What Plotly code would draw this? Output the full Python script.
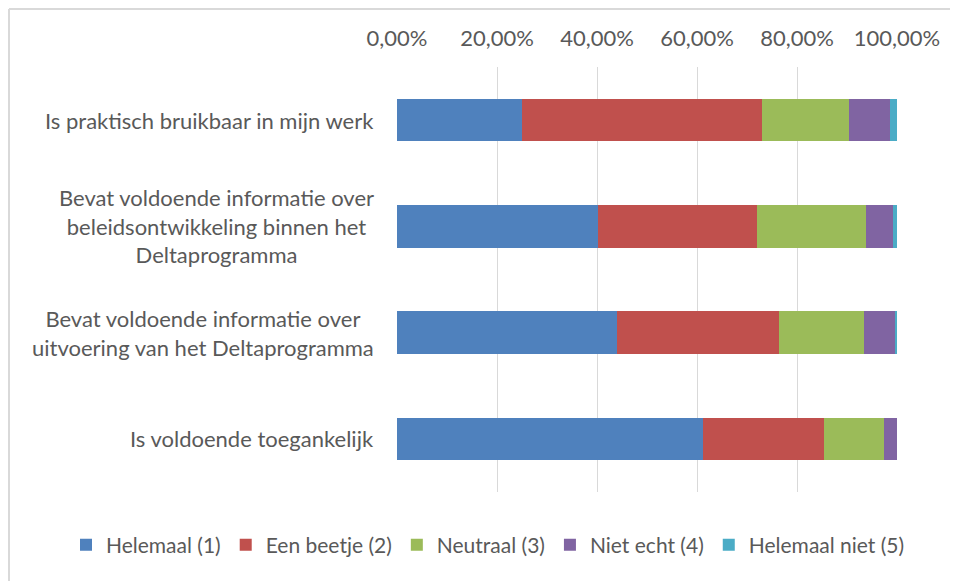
import plotly.graph_objects as go

categories = [
    "Is praktisch bruikbaar in mijn werk",
    "Bevat voldoende informatie over<br>beleidsontwikkeling binnen het<br>Deltaprogramma",
    "Bevat voldoende informatie over<br>uitvoering van het Deltaprogramma",
    "Is voldoende toegankelijk",
]
series_names = ["Helemaal (1)", "Een beetje (2)", "Neutraal (3)", "Niet echt (4)", "Helemaal niet (5)"]
helemaal = [24.9, 40.2, 43.9, 61.2]
een_beetje = [48.1, 31.8, 32.4, 24.1]
neutraal = [17.4, 21.7, 17.0, 12.0]
niet_echt = [8.2, 5.5, 6.4, 2.7]
helemaal_niet = [1.4, 0.8, 0.3, 0.0]
tick_vals = [0, 20, 40, 60, 80, 100]
tick_labels = ["0,00%", "20,00%", "40,00%", "60,00%", "80,00%", "100,00%"]

colors = ["#4F81BD", "#C0504D", "#9BBB59", "#8064A2", "#4BACC6"]
FONT = "Lato, Carlito, Calibri, sans-serif"
TXT = "#595959"

W, H = 958, 581
OFF = 8  # page body margin
# target screen positions: plot x 397..897, y 67..492
L, T = 397 - OFF, 67 - OFF
PW, PH = 500, 425
R, B = W - L - PW, H - T - PH

fig = go.Figure()
for name, vals, col in zip(series_names, [helemaal, een_beetje, neutraal, niet_echt, helemaal_niet], colors):
    fig.add_trace(go.Bar(
        name=name, x=vals, y=categories, orientation="h",
        marker=dict(color=col, line=dict(width=0)),
    ))

for cat in categories:
    fig.add_annotation(
        x=0, xref="paper", y=cat, yref="y", text=cat, showarrow=False,
        xanchor="right", yanchor="middle", align="center", xshift=-21,
        font=dict(family=FONT, size=22, color=TXT),
    )

fig.update_layout(
    width=W, height=H,
    barmode="stack", bargap=0.6,
    paper_bgcolor="white", plot_bgcolor="white",
    margin=dict(l=L, r=R, t=T, b=B, autoexpand=False),
    font=dict(family=FONT, size=18, color=TXT),
    showlegend=True,
    legend=dict(
        orientation="h", xref="paper", yref="paper",
        x=(66 - OFF - L) / PW, y=-(545 - 492) / PH, xanchor="left", yanchor="middle",
        font=dict(family=FONT, size=21, color=TXT),
        tracegroupgap=0, traceorder="normal", bgcolor="rgba(0,0,0,0)",
    ),
)
fig.update_xaxes(
    side="top", range=[0, 100], tickvals=tick_vals, ticktext=tick_labels,
    showgrid=True, gridcolor="#D9D9D9", gridwidth=1, zeroline=False,
    showline=False, ticks="", ticklabelstandoff=16,
    tickfont=dict(family=FONT, size=22, color=TXT),
)
fig.update_yaxes(
    autorange="reversed", showticklabels=False, showgrid=False, zeroline=False,
    showline=False, ticks="",
)
# chart frame (left and top edges visible)
fx = (1 - L) / PW
fy = (PH + T - 1) / PH
fig.add_shape(type="line", xref="paper", yref="paper",
              x0=fx, x1=fx, y0=-(B + 5) / PH, y1=fy,
              line=dict(color="#D9D9D9", width=2))
fig.add_shape(type="line", xref="paper", yref="paper",
              x0=fx, x1=1 + (R + 5) / PW, y0=fy, y1=fy,
              line=dict(color="#D9D9D9", width=2))

fig.write_html("out.html")
